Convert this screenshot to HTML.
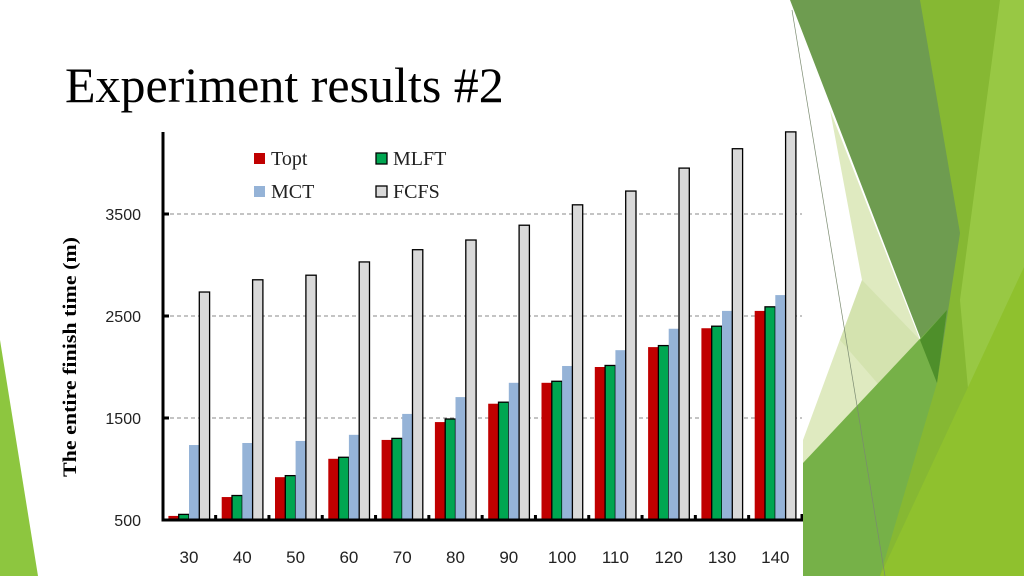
<!DOCTYPE html>
<html><head><meta charset="utf-8"><style>
html,body{margin:0;padding:0;background:#fff;}
#wrap{position:relative;width:1024px;height:576px;overflow:hidden;background:#fff;}
#title{position:absolute;left:65px;top:56px;font-family:"Liberation Serif",serif;font-size:50px;color:#000;margin:0;font-weight:normal;}
svg{position:absolute;left:0;top:0;}
</style></head><body>
<div id="wrap">
<h1 id="title">Experiment results #2</h1>
<svg id="chart" width="1024" height="576"></svg>
<svg width="1024" height="576">
<polygon points="0,340 38,576 0,576" fill="#8dc63f"/>
<polygon points="915,0 1024,0 1024,576 870,576 930,400" fill="#86b833"/>
<polygon points="1000,0 1024,0 1024,576 985,576 960,300" fill="#98c844"/>
<polygon points="790,0 920,0 960,233 937,383 920,337" fill="#6e9c50"/>
<polygon points="830,110 920,340 803,467 803,440 862,280" fill="#dfeac0"/>
<polygon points="862,280 920,340 905,415 840,340" fill="#cfe0a8" opacity="0.7"/>
<polygon points="803,463 947,310 937,383 880,576 803,576" fill="#76b148"/>
<polygon points="920,340 947,310 937,383" fill="#4e8f2a"/>
<polygon points="880,576 1024,267 1024,576" fill="#8fc12e"/>
<line x1="792" y1="10" x2="885" y2="576" stroke="#7a8a70" stroke-width="0.7"/>
</svg>
</div>
<script>
const categories=["30","40","50","60","70","80","90","100","110","120","130","140"];
const topt=[540,725,920,1100,1285,1460,1640,1845,2000,2195,2380,2550];
const mlft=[555,740,935,1115,1300,1490,1655,1860,2015,2210,2400,2590];
const mct=[1235,1255,1275,1335,1540,1705,1845,2010,2165,2375,2550,2705];
const fcfs=[2735,2855,2900,3030,3150,3245,3390,3590,3725,3950,4140,4305];
const yTicks=[500,1500,2500,3500];
const seriesNames=["Topt","MLFT","MCT","FCFS"];

const NS="http://www.w3.org/2000/svg";
const svg=document.getElementById('chart');
const x0=163,yBase=520,pxPer=0.102,groupW=53.3,firstC=189,barW=10.3;
function y(v){return yBase-(v-500)*pxPer;}
function xc(i){return firstC+i*groupW;}
function mk(t,a,p){const e=document.createElementNS(NS,t);for(const k in a)e.setAttribute(k,a[k]);(p||svg).appendChild(e);return e;}
yTicks.forEach(function(t){
  if(t>500){
    const g=mk('line',{x1:x0,x2:802,y1:y(t),y2:y(t),stroke:'#888','stroke-dasharray':'4,3','stroke-width':1});
    
    
  }
  const tk=mk('line',{x1:x0,x2:x0+6,y1:y(t),y2:y(t),stroke:'#000','stroke-width':3});
  
  
  const lb=mk('text',{x:141,y:y(t)+6,'text-anchor':'end','font-family':'Liberation Sans, sans-serif','font-size':16,fill:'#222'});
  lb.textContent=t;
  
  
});
const cols=[["#c00000","none"],["#00a651","#000"],["#95b3d7","none"],["#d9d9d9","#000"]];
const data=[topt,mlft,mct,fcfs];
categories.forEach(function(c,i){
  data.forEach(function(arr,s){
    const bx=xc(i)-2*barW+s*barW;
    const r=mk('rect',{x:bx,y:y(arr[i]),width:barW,height:yBase-y(arr[i]),fill:cols[s][0],stroke:cols[s][1],'stroke-width':1.3});
    
    
  });
  const lb=mk('text',{x:xc(i),y:563,'text-anchor':'middle','font-family':'Liberation Sans, sans-serif','font-size':17,fill:'#222'});
  lb.textContent=c;
  
  
  if(i>0){
    const tk=mk('line',{x1:xc(i)-groupW/2,x2:xc(i)-groupW/2,y1:yBase,y2:yBase-5,stroke:'#000','stroke-width':3});
    
    
  }
});
const ax=mk('polyline',{points:x0+',132 '+x0+','+yBase+' 802,'+yBase+' 802,514',fill:'none',stroke:'#000','stroke-width':3});


const yt=mk('text',{x:0,y:0,transform:'translate(76,357) rotate(-90)','text-anchor':'middle','font-family':'Liberation Serif, serif','font-size':19,'font-weight':'bold',fill:'#000',textLength:240,lengthAdjust:'spacingAndGlyphs'});
yt.textContent='The entire finish time (m)';


const leg=[[254,163],[376,163],[254,196],[376,196]];
seriesNames.forEach(function(n,s){
  const g=mk('g',{});
  
  
  mk('rect',{x:leg[s][0],y:leg[s][1]-10,width:11,height:11,fill:cols[s][0],stroke:cols[s][1],'stroke-width':1.3},g);
  const t=mk('text',{x:leg[s][0]+17,y:leg[s][1]+2,'font-family':'Liberation Serif, serif','font-size':20,fill:'#222'},g);
  t.textContent=n;
});
</script>
</body></html>
